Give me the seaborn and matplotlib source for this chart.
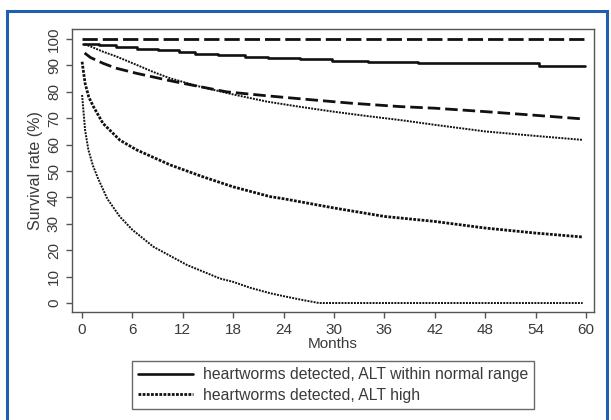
import numpy as np
import pandas as pd
import matplotlib
matplotlib.use("Agg")
import matplotlib.pyplot as plt
import seaborn as sns
from matplotlib.patches import Rectangle

# survival curves (months, survival %)
m_top = [0, 60.2]
s_top = [100, 100]

m_normal = [0.15, 2, 4, 6.5, 9, 11.5, 13.5, 16.2, 19.4, 22.1, 26, 29.8, 34, 40, 47, 54.4, 59.9]
s_normal = [98.1, 97.6, 97.0, 96.4, 95.8, 95.2, 94.3, 93.8, 93.3, 92.8, 92.3, 91.8, 91.3, 91.1, 90.8, 89.9, 89.9]

m_dash2 = [0.3, 1, 2.5, 4, 6.5, 8.5, 10.5, 13, 17.2, 22, 26.9, 32, 37.9, 42, 48, 54, 59.8]
s_dash2 = [94.7, 93.0, 90.8, 89.0, 87.0, 85.6, 84.2, 82.6, 80.0, 78.5, 77.1, 75.7, 74.4, 73.8, 72.5, 71.1, 69.7]

m_dot2 = [0.3, 1, 2.5, 4, 6.5, 8.5, 10.5, 14, 18, 22, 26, 29.9, 34, 37.9, 42, 48, 54, 59.6]
s_dot2 = [98.0, 97.2, 95.2, 93.5, 90.2, 87.5, 85.1, 82.0, 79.0, 76.3, 74.3, 72.5, 70.8, 69.3, 67.5, 65.0, 63.3, 61.8]

m_high = [0, 0.36, 0.8, 1.35, 2.5, 4.5, 6.5, 10.5, 14.4, 18, 22.4, 24, 30, 36, 42, 48, 54, 59.6]
s_high = [91.4, 83.2, 78.0, 74.4, 68.0, 61.7, 58.0, 52.3, 47.8, 44.0, 40.3, 39.5, 36.0, 32.8, 30.9, 28.4, 26.5, 25.0]

m_low = [0, 0.36, 0.75, 1.3, 1.9, 3, 4.5, 6, 8.5, 12.5, 16.4, 18, 20, 22.4, 24, 26, 28.2, 59.6]
s_low = [78.8, 65.5, 58.0, 52.0, 47.2, 39.5, 32.7, 27.7, 21.3, 14.4, 9.3, 8.0, 5.8, 3.7, 2.6, 1.3, 0, 0]

legend_labels = ["heartworms detected, ALT within normal range", "heartworms detected, ALT high"]

sns.set_style("ticks")
plt.rcParams['font.family'] = ['Liberation Sans', 'DejaVu Sans']

txt = '#3a3a3a'
ink = '#111111'

fig = plt.figure(figsize=(6.11, 4.2), dpi=100)
ax = fig.add_axes([72/611, 1-312/420, (594-72)/611, (312-29)/420])

sns.lineplot(x=m_top, y=s_top, ax=ax, color=ink, lw=2.0, linestyle=(0, (5.5, 1.8)), label='_nolegend_')
sns.lineplot(x=m_normal, y=s_normal, ax=ax, color=ink, lw=1.9, drawstyle='steps-post', label=legend_labels[0])
sns.lineplot(x=m_dash2, y=s_dash2, ax=ax, color=ink, lw=2.0, linestyle=(0, (4.5, 1.8)), label='_nolegend_')
sns.lineplot(x=m_dot2, y=s_dot2, ax=ax, color=ink, lw=1.4, linestyle=(0, (1, 0.6)), label='_nolegend_')
sns.lineplot(x=m_high, y=s_high, ax=ax, color=ink, lw=2.0, linestyle=(0, (1, 0.5)), label=legend_labels[1])
sns.lineplot(x=m_low, y=s_low, ax=ax, color=ink, lw=1.4, linestyle=(0, (1, 0.6)), label='_nolegend_')

ax.set_xlim(-1.2, 60.95)
ax.set_ylim(-3.4, 103.8)
ax.set_xticks(np.arange(0, 61, 6))
ax.set_yticks(np.arange(0, 101, 10))
for sp in ax.spines.values():
    sp.set_visible(True)
    sp.set_color('#555555')
    sp.set_linewidth(1.0)
ax.tick_params(axis='both', colors='#555555', labelcolor=txt, length=4, width=1, labelsize=11)
ax.tick_params(axis='x', pad=4)
ax.tick_params(axis='y', pad=4)
for lab in ax.get_yticklabels():
    lab.set_rotation(90)
    lab.set_va('center')

ax.set_xlabel('Months', color=txt, fontsize=11, labelpad=0)
ax.set_ylabel('Survival rate (%)', color=txt, fontsize=11.5, labelpad=3)

if ax.get_legend():
    ax.get_legend().remove()
h, l = ax.get_legend_handles_labels()
leg = fig.legend(h, l, loc='upper left', bbox_to_anchor=(132/611, 1-361/420),
                 borderaxespad=0, fontsize=11.3, frameon=True, fancybox=False,
                 handlelength=3.5, handletextpad=0.6, labelspacing=0.35, borderpad=0.4)
leg.get_frame().set_edgecolor('#444444')
leg.get_frame().set_linewidth(1.0)
for t in leg.get_texts():
    t.set_color(txt)

fig.add_artist(Rectangle((7.5/611, -0.2), (607-7.5)/611, 1.2-11/420, transform=fig.transFigure,
                         fill=False, edgecolor='#1f5fae', lw=2.2))

fig.savefig('out.png', dpi=100)
